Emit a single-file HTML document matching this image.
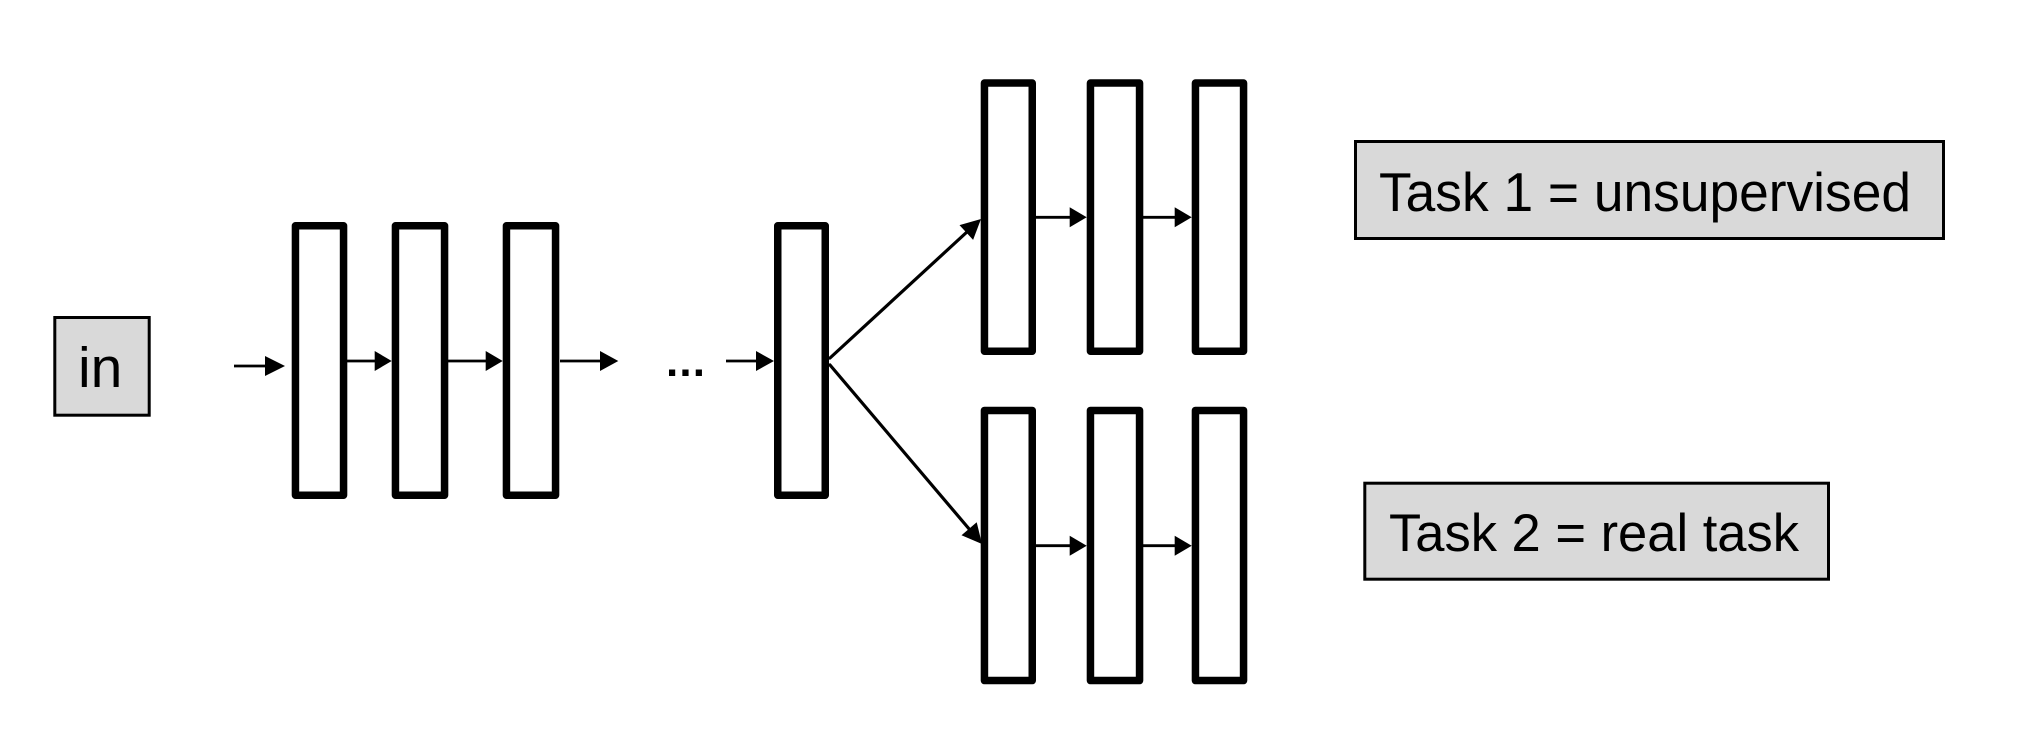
<!DOCTYPE html>
<html>
<head>
<meta charset="utf-8">
<style>
  html, body { margin: 0; padding: 0; background: #ffffff; }
  body { width: 2020px; height: 752px; overflow: hidden; }
  svg { display: block; }
  text { font-family: "Liberation Sans", Arial, sans-serif; fill: #000; }
</style>
</head>
<body>
<svg width="2020" height="752" viewBox="0 0 2020 752" xmlns="http://www.w3.org/2000/svg">
  <rect x="0" y="0" width="2020" height="752" fill="#ffffff"/>

  <!-- input box -->
  <rect x="54.8" y="317.5" width="94.4" height="97.7" fill="#d9d9d9" stroke="#000" stroke-width="3"/>
  <text x="78" y="387" font-size="57">in</text>

  <!-- input arrow -->
  <line x1="234" y1="366" x2="270" y2="366" stroke="#000" stroke-width="2.8"/>
  <polygon points="265,356 285,366 265,376" fill="#000"/>

  <!-- main row layers -->
  <g fill="#fff" stroke="#000" stroke-width="7.5" stroke-linejoin="round">
    <rect x="295.45" y="225.75" width="48.1" height="269.5"/>
    <rect x="395.45" y="225.75" width="49.1" height="269.5"/>
    <rect x="506.45" y="225.75" width="49.1" height="269.5"/>
    <rect x="777.75" y="225.75" width="47.5" height="269.5"/>
  </g>

  <!-- main row arrows -->
  <g stroke="#000" stroke-width="2.8">
    <line x1="347" y1="361" x2="380" y2="361"/>
    <line x1="448" y1="361" x2="491" y2="361"/>
    <line x1="560" y1="361" x2="606" y2="361"/>
    <line x1="726" y1="361" x2="762" y2="361"/>
  </g>
  <g fill="#000">
    <polygon points="374.7,351 391.7,361 374.7,371"/>
    <polygon points="485.7,351 502.7,361 485.7,371"/>
    <polygon points="600,351 618.3,361 600,371"/>
    <polygon points="756,351 774,361 756,371"/>
  </g>

  <!-- ellipsis -->
  <text x="666" y="376" font-size="44" font-weight="bold" textLength="39" lengthAdjust="spacing">...</text>

  <!-- diagonal branch arrows -->
  <g stroke="#000" stroke-width="3.2" stroke-linecap="round">
    <line x1="830" y1="358" x2="968" y2="231"/>
    <line x1="830" y1="365" x2="970" y2="530"/>
  </g>
  <g fill="#000">
    <polygon points="981,219 973.1,239.9 959.5,225.1"/>
    <polygon points="982,544 961.5,535.3 976.7,522.3"/>
  </g>

  <!-- top group layers -->
  <g fill="#fff" stroke="#000" stroke-width="7.5" stroke-linejoin="round">
    <rect x="984.45" y="83.05" width="47.8" height="268.2"/>
    <rect x="1090.45" y="83.05" width="49.1" height="268.2"/>
    <rect x="1195.45" y="83.05" width="48.1" height="268.2"/>
  </g>
  <g stroke="#000" stroke-width="2.8">
    <line x1="1036" y1="217.3" x2="1075" y2="217.3"/>
    <line x1="1143" y1="217.3" x2="1180" y2="217.3"/>
  </g>
  <g fill="#000">
    <polygon points="1069.7,207.3 1086.7,217.3 1069.7,227.3"/>
    <polygon points="1174.7,207.3 1191.7,217.3 1174.7,227.3"/>
  </g>

  <!-- bottom group layers -->
  <g fill="#fff" stroke="#000" stroke-width="7.5" stroke-linejoin="round">
    <rect x="984.45" y="410.45" width="47.8" height="270.1"/>
    <rect x="1090.45" y="410.45" width="49.1" height="270.1"/>
    <rect x="1195.45" y="410.45" width="48.1" height="270.1"/>
  </g>
  <g stroke="#000" stroke-width="2.8">
    <line x1="1036" y1="545.7" x2="1075" y2="545.7"/>
    <line x1="1143" y1="545.7" x2="1180" y2="545.7"/>
  </g>
  <g fill="#000">
    <polygon points="1069.7,535.7 1086.7,545.7 1069.7,555.7"/>
    <polygon points="1174.7,535.7 1191.7,545.7 1174.7,555.7"/>
  </g>

  <!-- task boxes -->
  <rect x="1355.5" y="141.5" width="588" height="97" fill="#d9d9d9" stroke="#000" stroke-width="3"/>
  <text x="1379" y="211" font-size="55" textLength="532" lengthAdjust="spacingAndGlyphs">Task 1 = unsupervised</text>

  <rect x="1364.8" y="483.2" width="463.7" height="96" fill="#d9d9d9" stroke="#000" stroke-width="3"/>
  <text x="1389" y="551" font-size="53" textLength="410" lengthAdjust="spacingAndGlyphs">Task 2 = real task</text>
</svg>
</body>
</html>
